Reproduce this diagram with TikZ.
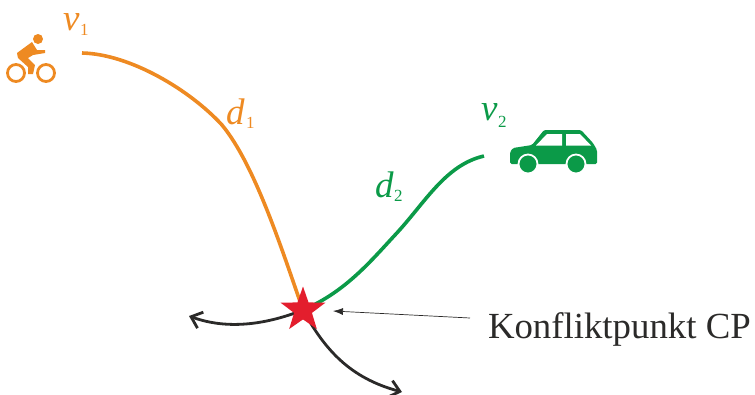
\documentclass[tikz,border=0pt]{standalone}
\usepackage{fontspec}
\setmainfont{Liberation Serif}
\usepackage{tikz}
\usetikzlibrary{arrows.meta,positioning,shapes.geometric}
\definecolor{bikeorange}{HTML}{EE8A22}
\definecolor{cargreen}{HTML}{0B9A48}
\definecolor{starred}{HTML}{E31E2D}
\definecolor{ink}{HTML}{2B2A29}
\begin{document}
\begin{tikzpicture}[
  x=1pt,y=-1pt,
  every node/.style={inner sep=0pt,outer sep=0pt},
  lab/.style={font=\fontsize{37}{37}\selectfont\itshape,anchor=base west},
  sub/.style={font=\fontsize{17}{17}\selectfont,anchor=base west},
  route/.style={line width=3.6pt},
  way/.style={-{Straight Barb[length=10pt,width=17pt,line width=2.8pt]},line width=2.8pt,ink},
  wheel/.style={draw=bikeorange,line width=2.8pt,circle,minimum size=17pt},
  tyre/.style={fill=cargreen,draw=white,line width=1.8pt,circle,minimum size=19pt},
  cpstar/.style={star,star points=5,star point ratio=2.5,fill=starred,minimum size=47pt}
]
\useasboundingbox (0,0) rectangle (755,394);

\coordinate (bikeend) at (82,53);
\coordinate (carend) at (484,156);
\coordinate (wayleft) at (189,316);
\coordinate (waydown) at (402,392);
\coordinate (cpline) at (470,318);
\coordinate (cpmid) at (303,310);

% routes
\draw[route,bikeorange] (bikeend) .. controls (130,54) and (190,90) .. (222,125)
  .. controls (255,165) and (282,250) .. (cpmid);
\draw[route,cargreen] (carend) .. controls (445,165) and (425,203) .. (395,235)
  .. controls (370,262) and (345,292) .. (cpmid);
\draw[way] (cpmid) .. controls (270,323) and (230,331) .. (wayleft);
\draw[way] (cpmid) .. controls (325,350) and (350,378) .. (waydown);
\node[cpstar] (cp) at (cpmid) {};
\draw[-{Latex[length=10pt,width=7pt]},line width=0.7pt,ink] (cpline) -- (333,311);
\node[anchor=base west,font=\fontsize{36.8}{37}\selectfont,text=ink] (cptext) at (488,338) {Konfliktpunkt CP};

% labels
\node[lab,text=bikeorange] (v1) at (63,30) {v};
\node[sub,text=bikeorange] (v1sub) at (80,35) {1};
\node[lab,text=bikeorange] (d1) at (226,124) {d};
\node[sub,text=bikeorange] (d1sub) at (246,128) {1};
\node[lab,text=cargreen] (v2) at (481,120) {v};
\node[sub,text=cargreen] (v2sub) at (498,127) {2};
\node[lab,text=cargreen] (d2) at (375,197) {d};
\node[sub,text=cargreen] (d2sub) at (394,201) {2};

% bicycle
\node[wheel] (wheela) at (16,73) {};
\node[wheel] (wheelb) at (46,73) {};
\fill[bikeorange] (38,39) circle (5);
\fill[bikeorange] (32,42) -- (37,50) -- (45,50) -- (45,53) -- (33,55) -- (28,58) -- (35,65)
  -- (33,74) -- (28,74) -- (28,67) -- (18,58) -- (17,53) -- cycle;

% car
\fill[cargreen,rounded corners=1.5pt] (510,164) -- (510,152) -- (513,148) -- (532,145) -- (544,130)
  -- (581,130) -- (593,143) -- (597,150) -- (597,164) -- cycle;
\fill[white] (536,145.5) -- (547,134) -- (562,134) -- (562,145.5) -- cycle;
\fill[white] (566,134) -- (580,134) -- (591,145.5) -- (566,145.5) -- cycle;
\node[tyre] (tyrea) at (528,164) {};
\node[tyre] (tyreb) at (576,164) {};
\end{tikzpicture}
\end{document}
